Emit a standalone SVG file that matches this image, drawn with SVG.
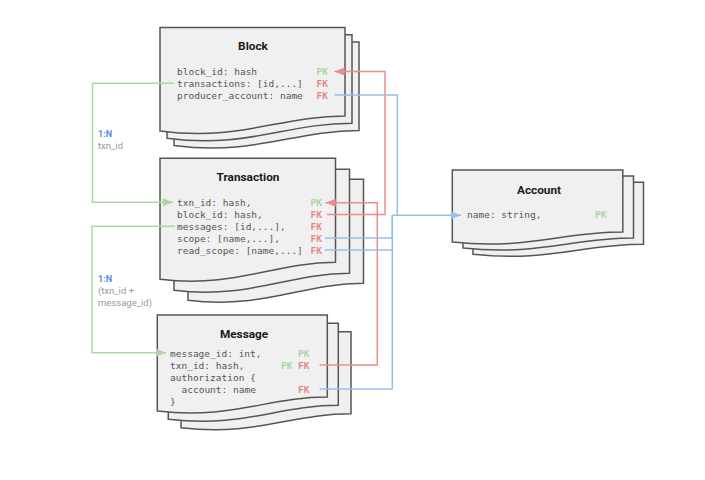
<svg xmlns="http://www.w3.org/2000/svg" width="705" height="480" viewBox="0 0 705 480">
<style>
.sheet{fill:#f0f0f0;stroke:#555;stroke-width:1.5;stroke-linejoin:miter}
.title{font-family:Roboto,"Liberation Sans",sans-serif;font-weight:bold;font-size:11.8px;fill:#1a1a1a;text-anchor:middle}
.f{font-family:"DejaVu Sans Mono","Liberation Mono",monospace;font-size:9.5px;fill:#555}
.pk{font-family:"DejaVu Sans Mono","Liberation Mono",monospace;font-size:9.5px;font-weight:bold;fill:#a9d6a0}
.fk{font-family:"DejaVu Sans Mono","Liberation Mono",monospace;font-size:9.5px;font-weight:bold;fill:#e98686}
.card{font-family:Roboto,"Liberation Sans",sans-serif;font-weight:bold;font-size:9px;fill:#5a8fe6}
.lbl{font-family:Roboto,"Liberation Sans",sans-serif;font-size:9.5px;fill:#999}
.g{fill:none;stroke:#a9d99f;stroke-width:1.5}
.r{fill:none;stroke:#ec8d8d;stroke-width:1.5}
.b{fill:none;stroke:#94c0ea;stroke-width:1.5}
</style>
<defs>
<marker id="ag" markerUnits="userSpaceOnUse" markerWidth="11" markerHeight="9" refX="10" refY="4" orient="auto"><path d="M0,0 L10,4 L0,8 z" fill="#a9d99f"/></marker>
<marker id="ar" markerUnits="userSpaceOnUse" markerWidth="11" markerHeight="9" refX="10" refY="4" orient="auto"><path d="M0,0 L10,4 L0,8 z" fill="#ec8d8d"/></marker>
<marker id="ab" markerUnits="userSpaceOnUse" markerWidth="11" markerHeight="9" refX="10" refY="4" orient="auto"><path d="M0,0 L10,4 L0,8 z" fill="#94c0ea"/></marker>
<path id="sBlock" d="M0,0 H185 V88.5 C120,88.5 80,114 0,103.5 Z"/>
<path id="sTxn" d="M0,0 H175.5 V104 C114,104 76,130 0,121 Z"/>
<path id="sMsg" d="M0,0 H170 V82 C110,82 74,105 0,96 Z"/>
<path id="sAcc" d="M0,0 H170.5 V62 C110,62 74,80 0,72 Z"/>
</defs>

<g id="block">
<use href="#sBlock" class="sheet" x="174" y="42"/>
<use href="#sBlock" class="sheet" x="167" y="34.7"/>
<use href="#sBlock" class="sheet" x="160" y="27.5"/>
<text class="title" x="253" y="50">Block</text>
<text class="f" x="177" y="75">block_id: hash</text>
<text class="f" x="177" y="87">transactions: [id,...]</text>
<text class="f" x="177" y="99">producer_account: name</text>
<text class="pk" x="316.5" y="75">PK</text>
<text class="fk" x="316.5" y="87">FK</text>
<text class="fk" x="316.5" y="99">FK</text>
</g>

<g id="transaction">
<use href="#sTxn" class="sheet" x="188" y="179.3"/>
<use href="#sTxn" class="sheet" x="174" y="169.3"/>
<use href="#sTxn" class="sheet" x="160" y="158.3"/>
<text class="title" x="248" y="181">Transaction</text>
<text class="f" x="177" y="206">txn_id: hash,</text>
<text class="f" x="177" y="218">block_id: hash,</text>
<text class="f" x="177" y="230">messages: [id,...],</text>
<text class="f" x="177" y="242">scope: [name,...],</text>
<text class="f" x="177" y="254">read_scope: [name,...]</text>
<text class="pk" x="310.5" y="206">PK</text>
<text class="fk" x="310.5" y="218">FK</text>
<text class="fk" x="310.5" y="230">FK</text>
<text class="fk" x="310.5" y="242">FK</text>
<text class="fk" x="310.5" y="254">FK</text>
</g>

<g id="message">
<use href="#sMsg" class="sheet" x="181" y="331.7"/>
<use href="#sMsg" class="sheet" x="168.3" y="323.3"/>
<use href="#sMsg" class="sheet" x="157.3" y="315"/>
<text class="title" x="244" y="338">Message</text>
<text class="f" x="170" y="357">message_id: int,</text>
<text class="f" x="170" y="369">txn_id: hash,</text>
<text class="f" x="170" y="381">authorization {</text>
<text class="f" x="181.5" y="393">account: name</text>
<text class="f" x="170" y="405">}</text>
<text class="pk" x="298" y="357">PK</text>
<text class="pk" x="281" y="369">PK</text>
<text class="fk" x="298" y="369">FK</text>
<text class="fk" x="298" y="393">FK</text>
</g>

<g id="account">
<use href="#sAcc" class="sheet" x="473" y="182.3"/>
<use href="#sAcc" class="sheet" x="463" y="176"/>
<use href="#sAcc" class="sheet" x="452.3" y="170"/>
<text class="title" x="539" y="193.5">Account</text>
<text class="f" x="467" y="218">name: string,</text>
<text class="pk" x="595" y="218">PK</text>
</g>

<g id="labels">
<text class="card" x="98" y="136.5">1:N</text>
<text class="lbl" x="98" y="148.5">txn_id</text>
<text class="card" x="98" y="281.5">1:N</text>
<text class="lbl" x="98" y="293.5">(txn_id +</text>
<text class="lbl" x="98" y="305.5">message_id)</text>
</g>

<g id="connectors">
<path class="g" d="M174,83.3 H92.5 V202.3 H173" marker-end="url(#ag)"/>
<path class="g" d="M175,226.3 H92 V352.7 H166" marker-end="url(#ag)"/>
<path class="r" d="M327,214.5 H385 V71.5 H334.5" marker-end="url(#ar)"/>
<path class="r" d="M319.5,365 H377.3 V202.7 H325.7" marker-end="url(#ar)"/>
<path class="b" d="M334.5,95 H397.3 V215.3"/>
<path class="b" d="M325,238 H392.3 V215.3"/>
<path class="b" d="M325,250 H392.3"/>
<path class="b" d="M319.5,389 H392.3 V215.3"/>
<path class="b" d="M392.3,215.3 H461" stroke-width="2" marker-end="url(#ab)"/>
</g>
</svg>
